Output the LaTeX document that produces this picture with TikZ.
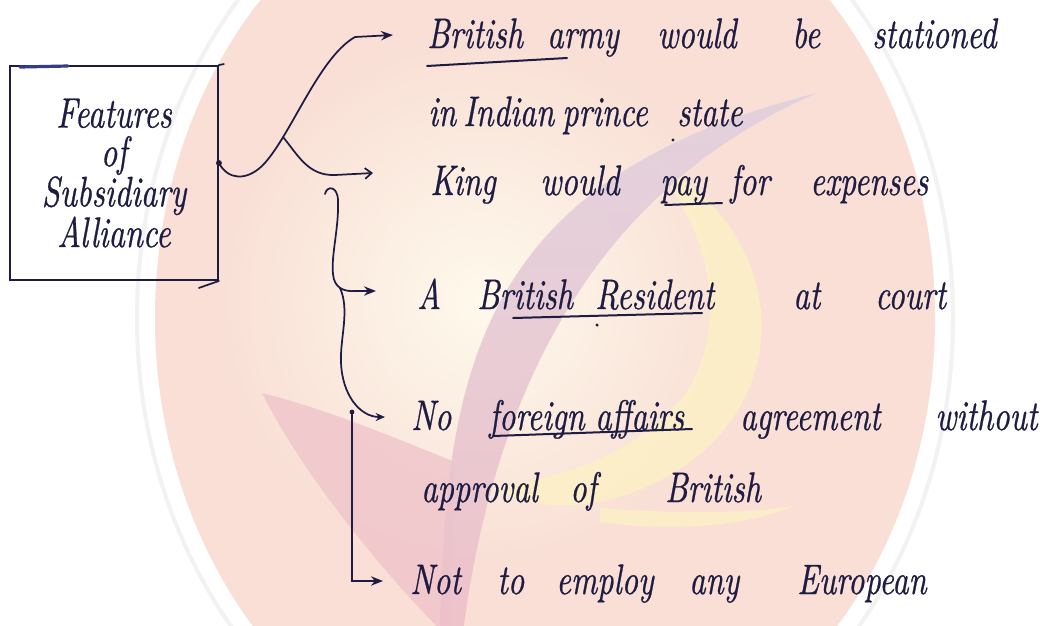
\documentclass[tikz,border=0pt]{standalone}
\usepackage{graphicx}
\usepackage{fontspec}
\newfontfamily\hand{lmroman10-italic}[Extension=.otf, FakeBold=0.8]
\usetikzlibrary{arrows.meta,calc}
\definecolor{ink}{RGB}{30,28,66}
\definecolor{pinkbg}{RGB}{249,223,213}
\definecolor{glow}{RGB}{254,249,236}
\definecolor{armlow}{RGB}{238,192,200}
\definecolor{armtop}{RGB}{224,208,222}
\definecolor{leftarm}{RGB}{240,198,204}
\definecolor{yel}{RGB}{252,240,198}
\definecolor{ringgray}{RGB}{243,241,241}
\definecolor{smudge}{RGB}{52,62,132}
\newcommand\hw[1]{\scalebox{0.75}[1]{#1}}
\tikzset{
  wd/.style={anchor=base west, inner sep=0pt, text=ink,
    font=\hand\fontsize{32}{33}\selectfont, text height=19.5pt, text depth=0pt},
  conn/.style={draw=ink, line width=1.3pt, line cap=round},
  ul/.style={draw=ink, line width=1.5pt, line cap=round},
  fhead/.style={-{Stealth[length=9pt,width=7pt]}},
  shead/.style={-{Stealth[length=7pt,width=6pt]}},
  ohead/.style={-{Straight Barb[length=5pt,width=8pt]}},
}
\begin{document}
\begin{tikzpicture}[x=0.75pt,y=-0.75pt]
\useasboundingbox (0,0) rectangle (1062,625);
\fill[white] (0,0) rectangle (1062,625);
% watermark
\begin{scope}
  \clip (0,0) rectangle (1062,625);
  \draw[ringgray, line width=3pt] (545,318) ellipse [x radius=306pt, y radius=362pt];
  \fill[pinkbg] (545,318) ellipse [x radius=292.5pt, y radius=348.75pt];
  \clip (545,318) ellipse [x radius=292.5pt, y radius=348.75pt];
  \shade[inner color=glow, outer color=pinkbg] (480,300) circle (200pt);
  \fill[leftarm, opacity=0.85] (262,393) .. controls (330,410) and (400,440) .. (455,462)
     -- (450,640) .. controls (380,570) and (300,470) .. cycle;
  \fill[yel, opacity=0.85] (650,160) .. controls (790,230) and (800,400) .. (670,475)
     .. controls (610,510) and (540,515) .. (492,488)
     .. controls (560,478) and (640,455) .. (688,390)
     .. controls (728,322) and (712,232) .. cycle;
  \fill[yel, opacity=0.85] (600,508) .. controls (690,515) and (760,512) .. (793,506)
     .. controls (750,526) and (670,532) .. (600,522) -- cycle;
  \shade[top color=armtop, bottom color=armlow, opacity=0.9]
     (440,640) .. controls (445,380) and (470,180) .. (817,93)
     .. controls (640,170) and (500,330) .. (462,640) -- cycle;
\end{scope}
% box
\node[draw=ink, line width=1.4pt, minimum width=156pt, minimum height=160.5pt,
  inner sep=0pt, align=center, text=ink, font=\hand\fontsize{32}{29}\selectfont]
  (box) at (114,173) {\hw{Features}\\\hw{of}\\\hw{Subsidiary}\\\hw{Alliance}};
\draw[smudge, line width=2.4pt, line cap=round] (20,67) -- (68,66);
\draw[ink, line width=1.3pt, line cap=round] (box.north east) -- ++(5,-1);
\draw[ink, line width=1.3pt, line cap=round] (box.south east) -- ++(-20,7);
% words
\node[wd] (w11) at (427,48) {\hw{British}};
\node[wd] (w12) at (547,48) {\hw{army}};
\node[wd] (w13) at (657,48) {\hw{would}};
\node[wd] (w14) at (792,48) {\hw{be}};
\node[wd] (w15) at (872,48) {\hw{stationed}};
\node[wd] (w21) at (428,126) {\hw{in}};
\node[wd] (w22) at (463,126) {\hw{Indian}};
\node[wd] (w23) at (562,126) {\hw{prince}};
\node[wd] (w24) at (677,126) {\hw{state}};
\node[wd] (w31) at (430,195) {\hw{King}};
\node[wd] (w32) at (540,195) {\hw{would}};
\node[wd] (w33) at (660,195) {\hw{pay}};
\node[wd] (w34) at (730,195) {\hw{for}};
\node[wd] (w35) at (810,195) {\hw{expenses}};
\node[wd] (w41) at (417,309) {\hw{A}};
\node[wd] (w42) at (477,309) {\hw{British}};
\node[wd] (w43) at (595,309) {\hw{Resident}};
\node[wd] (w44) at (793,309) {\hw{at}};
\node[wd] (w45) at (875,309) {\hw{court}};
\node[wd] (w51) at (411,430) {\hw{No}};
\node[wd] (w52) at (489,430) {\hw{foreign}};
\node[wd] (w53) at (595,430) {\hw{affairs}};
\node[wd] (w54) at (740,430) {\hw{agreement}};
\node[wd] (w55) at (935,430) {\hw{without}};
\node[wd] (w61) at (421,502) {\hw{approval}};
\node[wd] (w62) at (570,502) {\hw{of}};
\node[wd] (w63) at (665,502) {\hw{British}};
\node[wd] (w71) at (410,594) {\hw{Not}};
\node[wd] (w72) at (497,594) {\hw{to}};
\node[wd] (w73) at (556,594) {\hw{employ}};
\node[wd] (w74) at (689,594) {\hw{any}};
\node[wd] (w75) at (797,594) {\hw{European}};
% underlines and marks
\draw[ul] (427,66) -- (567,58);
\draw[ul] (665,205) -- (722,203);
\draw[ul] (513,318) -- (702,313);
\draw[ul] (493,436) -- (692,429);
\fill[ink] (597,325) circle (1.3pt);
\fill[ink] (673,140) circle (1.3pt);
% connectors
\coordinate (s) at ([yshift=7.5pt]box.east);
\coordinate (b0) at (283,137);
\coordinate (c0) at (325,194);
\coordinate (c1) at (340,288);
\coordinate (e0) at (352,412);
\fill[ink] (s) circle (2.2pt);
\draw[conn, fhead] (s) .. controls (228,180) and (246,181) .. (262,166)
   .. controls (290,138) and (318,58) .. (355,37) -- ($(w11.west)+(-34,0)$);
\draw[conn, ohead] (b0) .. controls (298,155) and (308,176) .. (335,175)
   -- ($(w31.west)+(-57,-9)$);
\draw[conn, fhead] (c0) .. controls (327,185) and (338,186) .. (338,201)
   .. controls (339,228) and (331,255) .. (333,274)
   .. controls (334,288) and (344,292) .. (356,291) -- ($(w41.west)+(-41,-5)$);
\draw[conn, shead] (c1) .. controls (350,310) and (340,338) .. (341,362)
   .. controls (342,395) and (360,417) .. ($(w51.west)+(-26,0)$);
\fill[ink] (e0) circle (1.8pt);
\draw[conn, fhead] (e0) |- ($(w71.west)+(-27,0)$);
\end{tikzpicture}
\end{document}
